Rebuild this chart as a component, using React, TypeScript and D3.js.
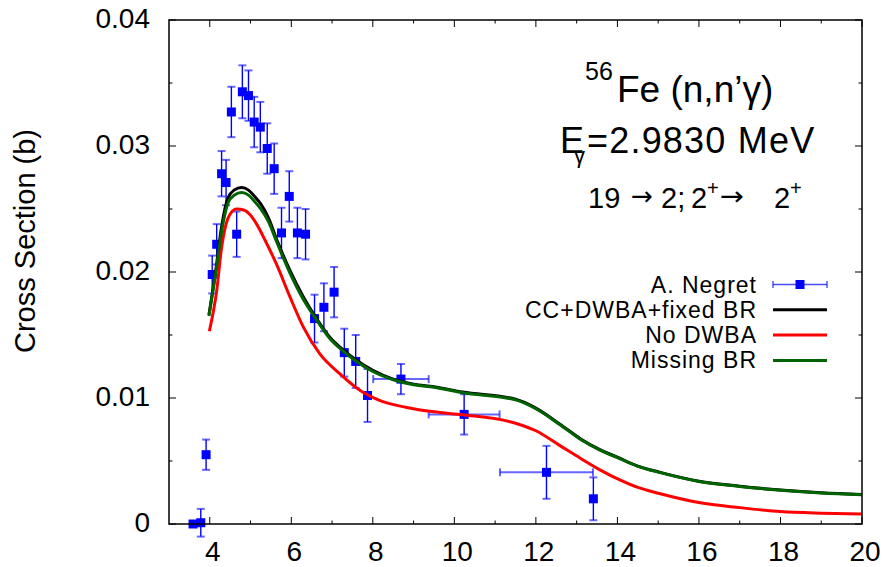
import React from "react";
import * as d3 from "d3";

const W = 884;
const H = 567;
const PLOT = { left: 169, right: 862, top: 20, bottom: 524 };

// Experimental data (A. Negret)
const expX = [3.59, 3.78, 3.91, 4.06, 4.17, 4.29, 4.40, 4.53, 4.66, 4.80, 4.95, 5.09, 5.24, 5.41, 5.58, 5.76, 5.95, 6.15, 6.35, 6.57, 6.80, 7.05, 7.30, 7.58, 7.87, 8.69, 10.24, 12.26, 13.41];
const expY = [0.0, 0.0001, 0.0055, 0.0198, 0.0222, 0.0278, 0.0271, 0.0327, 0.0230, 0.0343, 0.0340, 0.0319, 0.0315, 0.0298, 0.0282, 0.0231, 0.0260, 0.0231, 0.0230, 0.0163, 0.0172, 0.0184, 0.0136, 0.0129, 0.0102, 0.0115, 0.0087, 0.0041, 0.0020];
const expDY = [0.0, 0.0011, 0.0012, 0.0015, 0.0016, 0.0018, 0.0018, 0.0020, 0.0018, 0.0021, 0.0020, 0.0020, 0.0020, 0.0020, 0.0020, 0.0020, 0.0020, 0.0020, 0.0020, 0.0019, 0.0019, 0.0020, 0.0019, 0.0021, 0.0021, 0.0012, 0.0016, 0.0021, 0.0017];
const expDX = [0, 0, 0, 0, 0, 0, 0, 0, 0, 0, 0, 0, 0, 0, 0, 0, 0, 0, 0, 0, 0, 0, 0, 0, 0, 0.68, 0.87, 1.14, 0];

// CC+DWBA+fixed BR
const fullX = [3.98, 4.15, 4.29, 4.45, 4.6, 4.78, 4.95, 5.1, 5.25, 5.44, 5.64, 5.97, 6.3, 6.62, 6.95, 7.28, 7.6, 8.0, 8.5, 9.0, 9.5, 10.2, 11.5, 12.0, 12.6, 13.1, 13.57, 14.0, 14.5, 15.05, 16, 17, 18, 19, 20];
const fullY = [0.0166, 0.0202, 0.0236, 0.0259, 0.0265, 0.0267, 0.0265, 0.0260, 0.0254, 0.0243, 0.0226, 0.0201, 0.0180, 0.0163, 0.0148, 0.0138, 0.0130, 0.0122, 0.0115, 0.0111, 0.0109, 0.01047, 0.0099, 0.0092, 0.0079, 0.00675, 0.0059, 0.0053, 0.0046, 0.0041, 0.0034, 0.0030, 0.0027, 0.00248, 0.00235];

// No DWBA
const noDwbaX = [3.99, 4.09, 4.17, 4.28, 4.4, 4.5, 4.66, 4.85, 5.0, 5.15, 5.36, 5.64, 5.97, 6.3, 6.7, 7.2, 7.69, 8.18, 8.83, 9.5, 10.2, 11.5, 12.0, 12.6, 13.1, 13.57, 14.06, 14.5, 15.05, 16, 17, 18, 19, 20];
const noDwbaY = [0.0153, 0.0169, 0.0185, 0.0217, 0.0238, 0.0246, 0.0250, 0.0249, 0.0245, 0.0238, 0.0225, 0.0206, 0.0180, 0.0156, 0.0135, 0.0119, 0.0106, 0.0098, 0.00925, 0.0089, 0.00867, 0.0080, 0.0074, 0.0062, 0.0052, 0.0043, 0.0035, 0.0029, 0.0024, 0.0017, 0.0013, 0.00099, 0.00086, 0.00079];

// Missing BR
const missX = [3.98, 4.15, 4.29, 4.45, 4.6, 4.78, 4.95, 5.1, 5.25, 5.44, 5.64, 5.97, 6.3, 6.62, 6.95, 7.28, 7.6, 8.0, 8.5, 9.0, 9.5, 10.2, 11.5, 12.0, 12.6, 13.1, 13.57, 14.0, 14.5, 15.05, 16, 17, 18, 19, 20];
const missY = [0.0165, 0.0200, 0.0232, 0.0255, 0.0261, 0.0263, 0.0261, 0.0256, 0.0250, 0.0240, 0.0224, 0.0199, 0.0178, 0.0162, 0.0147, 0.0137, 0.0129, 0.0121, 0.01145, 0.01105, 0.01085, 0.01042, 0.00985, 0.00915, 0.00786, 0.00671, 0.00587, 0.00527, 0.00458, 0.00408, 0.00338, 0.00298, 0.00268, 0.00246, 0.00233];

const xMajorTicks = [4, 6, 8, 10, 12, 14, 16, 18, 20];
const xMinorTicks = [5, 7, 9, 11, 13, 15, 17, 19];
const yMajorTicks = [0, 0.01, 0.02, 0.03, 0.04];
const yMinorTicks = [0.005, 0.015, 0.025, 0.035];
const yTickLabels = ["0", "0.01", "0.02", "0.03", "0.04"];

const legendLabels = ["A. Negret", "CC+DWBA+fixed BR", "No DWBA", "Missing BR"];
const legendColors = ["#0000ff", "#000000", "#ff0000", "#006400"];

const FONT = "'Liberation Sans', Arial, Helvetica, sans-serif";
const ARROW_FONT = "'DejaVu Sans', sans-serif";

export default function App() {
  const x = d3.scaleLinear().domain([3, 20]).range([PLOT.left, PLOT.right]);
  const y = d3.scaleLinear().domain([0, 0.04]).range([PLOT.bottom, PLOT.top]);

  const line = d3
    .line<[number, number]>()
    .x((d) => x(d[0]))
    .y((d) => y(d[1]))
    .curve(d3.curveMonotoneX);

  const series = [
    { xs: fullX, ys: fullY, color: legendColors[1] },
    { xs: noDwbaX, ys: noDwbaY, color: legendColors[2] },
    { xs: missX, ys: missY, color: legendColors[3] },
  ];

  const blue = "#0000ff";
  const cap = 4;
  const majorLen = 7;
  const minorLen = 3.5;

  return (
    <svg
      width={W}
      height={H}
      style={{ position: "fixed", left: 0, top: 0, background: "#fff" }}
      fontFamily={FONT}
    >
      <rect x={0} y={0} width={W} height={H} fill="#fff" />

      {/* experimental points */}
      <g>
        {expX.map((xv, i) => {
          const cx = x(xv);
          const cy = y(expY[i]);
          const dy = expDY[i];
          const dx = expDX[i];
          return (
            <g key={i}>
              {dy > 0 && (
                <g stroke={blue} strokeWidth={1.4}>
                  <line x1={cx} x2={cx} y1={y(expY[i] - dy)} y2={y(expY[i] + dy)} />
                  <line x1={cx - cap} x2={cx + cap} y1={y(expY[i] + dy)} y2={y(expY[i] + dy)} strokeOpacity={0.6} strokeWidth={2} />
                  <line x1={cx - cap} x2={cx + cap} y1={y(expY[i] - dy)} y2={y(expY[i] - dy)} strokeOpacity={0.6} strokeWidth={2} />
                </g>
              )}
              {dx > 0 && (
                <g stroke={blue} strokeWidth={1.4} strokeOpacity={0.6}>
                  <line x1={x(xv - dx)} x2={x(xv + dx)} y1={cy} y2={cy} strokeWidth={2} />
                  <line x1={x(xv - dx)} x2={x(xv - dx)} y1={cy - cap} y2={cy + cap} strokeWidth={2} />
                  <line x1={x(xv + dx)} x2={x(xv + dx)} y1={cy - cap} y2={cy + cap} strokeWidth={2} />
                </g>
              )}
              <rect x={cx - 4.5} y={cy - 4.5} width={9} height={9} fill={blue} />
            </g>
          );
        })}
      </g>

      {/* model curves */}
      {series.map((s, i) => (
        <path
          key={i}
          d={line(s.xs.map((xv, j) => [xv, s.ys[j]] as [number, number])) || ""}
          fill="none"
          stroke={s.color}
          strokeWidth={3}
          strokeLinejoin="round"
        />
      ))}

      {/* frame */}
      <rect
        x={PLOT.left}
        y={PLOT.top}
        width={PLOT.right - PLOT.left}
        height={PLOT.bottom - PLOT.top}
        fill="none"
        stroke="#000"
        strokeWidth={1.5}
      />

      {/* ticks */}
      <g stroke="#000" strokeWidth={1}>
        {xMajorTicks.map((t) => (
          <g key={"xM" + t}>
            <line x1={x(t)} x2={x(t)} y1={PLOT.bottom} y2={PLOT.bottom - majorLen} />
            <line x1={x(t)} x2={x(t)} y1={PLOT.top} y2={PLOT.top + majorLen} />
          </g>
        ))}
        {xMinorTicks.map((t) => (
          <g key={"xm" + t}>
            <line x1={x(t)} x2={x(t)} y1={PLOT.bottom} y2={PLOT.bottom - minorLen} />
            <line x1={x(t)} x2={x(t)} y1={PLOT.top} y2={PLOT.top + minorLen} />
          </g>
        ))}
        {yMajorTicks.map((t) => (
          <g key={"yM" + t}>
            <line x1={PLOT.left} x2={PLOT.left + majorLen} y1={y(t)} y2={y(t)} />
            <line x1={PLOT.right} x2={PLOT.right - majorLen} y1={y(t)} y2={y(t)} />
          </g>
        ))}
        {yMinorTicks.map((t) => (
          <g key={"ym" + t}>
            <line x1={PLOT.left} x2={PLOT.left + minorLen} y1={y(t)} y2={y(t)} />
            <line x1={PLOT.right} x2={PLOT.right - minorLen} y1={y(t)} y2={y(t)} />
          </g>
        ))}
      </g>

      {/* tick labels */}
      <g fontSize={28} fill="#000">
        {xMajorTicks.map((t) => (
          <text key={"xl" + t} x={x(t) + 3} y={561} textAnchor="middle">
            {String(t)}
          </text>
        ))}
        {yMajorTicks.map((t, i) => (
          <text key={"yl" + t} x={150} y={y(t) + 8} textAnchor="end">
            {yTickLabels[i]}
          </text>
        ))}
      </g>

      {/* y axis label */}
      <text
        transform="translate(35,241) rotate(-90)"
        textAnchor="middle"
        fontSize={29}
        fill="#000"
      >
        Cross Section (b)
      </text>

      {/* annotations */}
      <g fill="#000">
        <text x={585} y={80} fontSize={25}>56</text>
        <text x={617} y={102} fontSize={37}>Fe (n,n’γ)</text>
        <text x={560} y={153} fontSize={36}>E</text>
        <text x={574} y={163} fontSize={22}>γ</text>
        <text x={587} y={153} fontSize={36} letterSpacing={1.2}>=2.9830 MeV</text>
        <g fontSize={29}>
          <text x={588} y={208}>19</text>
          <text x={631} y={205} fontSize={26} fontFamily={ARROW_FONT} textLength={22} lengthAdjust="spacingAndGlyphs">→</text>
          <text x={661} y={208}>2;</text>
          <text x={691} y={208}>2</text>
          <text x={707} y={195} fontSize={20}>+</text>
          <text x={720} y={205} fontSize={26} fontFamily={ARROW_FONT} textLength={24} lengthAdjust="spacingAndGlyphs">→</text>
          <text x={774} y={208}>2</text>
          <text x={790} y={195} fontSize={20}>+</text>
        </g>
      </g>

      {/* legend */}
      <g>
        {legendLabels.map((lab, i) => {
          const cy = 284.5 + i * 25.3;
          return (
            <g key={lab}>
              <text x={757} y={cy + 8} textAnchor="end" fontSize={23} letterSpacing={1} fill="#000">
                {lab}
              </text>
              {i === 0 ? (
                <g stroke={blue} strokeWidth={1.4}>
                  <line x1={773} x2={827} y1={cy} y2={cy} strokeOpacity={0.7} />
                  <line x1={773} x2={773} y1={cy - 3.5} y2={cy + 3.5} strokeOpacity={0.7} />
                  <line x1={827} x2={827} y1={cy - 3.5} y2={cy + 3.5} strokeOpacity={0.7} />
                  <rect x={800 - 4.5} y={cy - 4.5} width={9} height={9} fill={blue} stroke="none" />
                </g>
              ) : (
                <line x1={773} x2={827} y1={cy} y2={cy} stroke={legendColors[i]} strokeWidth={3} />
              )}
            </g>
          );
        })}
      </g>
    </svg>
  );
}
